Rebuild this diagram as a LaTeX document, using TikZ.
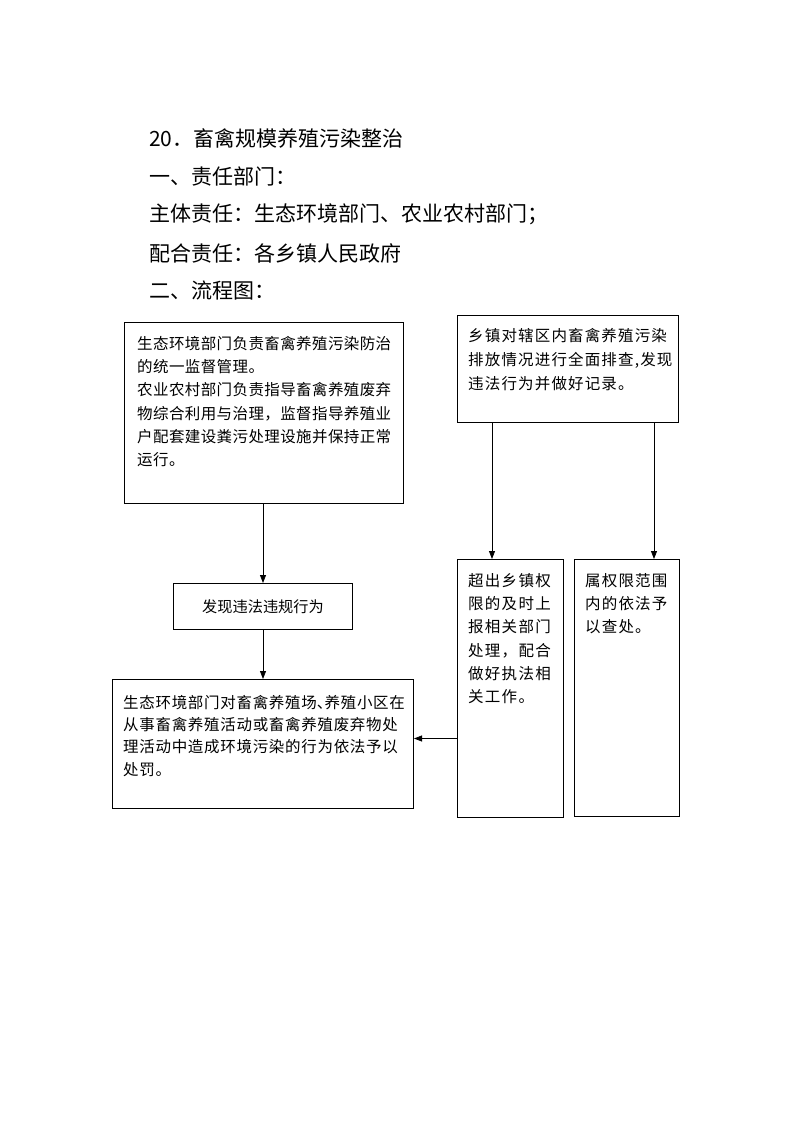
\documentclass[tikz,border=0pt]{standalone}
\usepackage{fontspec}
\setmainfont{Noto Sans CJK SC}
\newfontfamily\headfam{Noto Sans CJK SC}
\newfontfamily\boxfamA[LetterSpace=2.6]{Noto Sans CJK SC}
\newfontfamily\boxfamB[LetterSpace=4.5]{Noto Sans CJK SC}
\newfontfamily\boxfamC[LetterSpace=7.5]{Noto Sans CJK SC}
\newfontfamily\boxfamD[LetterSpace=8.2]{Noto Sans CJK SC}
\newfontfamily\boxfamE{Noto Sans CJK SC}
\usetikzlibrary{arrows.meta,calc}
\begin{document}
\begin{tikzpicture}[x=1pt,y=-1pt,
  box/.style={draw,line width=1pt,inner sep=0pt,anchor=north west},
  head/.style={inner sep=0pt,anchor=west,font=\headfam\fontsize{21}{21}\selectfont},
  txt/.style={inner sep=0pt,anchor=north west,align=left},
  arr/.style={line width=0.8pt,-{Triangle[length=8pt,width=6pt]}}]
\useasboundingbox (0,0) rectangle (793,1122);

% heading lines
\node[head] (h1) at (149,138) {20．畜禽规模养殖污染整治};
\node[head] (h2) at (149,176) {一、责任部门：};
\node[head] (h3) at (149,214) {主体责任：生态环境部门、农业农村部门；};
\node[head] (h4) at (149,253) {配合责任：各乡镇人民政府};
\node[head] (h5) at (149,291) {二、流程图：};

% boxes
\node[box,minimum width=279pt,minimum height=181pt] (b1) at (124,322) {};
\node[box,minimum width=179pt,minimum height=46pt] (b2) at (173,583) {};
\node[box,minimum width=301pt,minimum height=129pt] (b3) at (112,679) {};
\node[box,minimum width=221pt,minimum height=107pt] (r1) at (457,315) {};
\node[box,minimum width=106pt,minimum height=258pt] (sa) at (457,559) {};
\node[box,minimum width=105pt,minimum height=257pt] (sb) at (574,559) {};

% texts
\node[txt,font=\boxfamA\fontsize{15.5}{23.3}\selectfont] (t1) at (137,336)
  {生态环境部门负责畜禽养殖污染防治\\的统一监督管理。\\农业农村部门负责指导畜禽养殖废弃\\物综合利用与治理，监督指导养殖业\\户配套建设粪污处理设施并保持正常\\运行。};
\node[inner sep=0pt,font=\boxfamE\fontsize{15.2}{18}\selectfont] (t2) at (b2.center) {发现违法违规行为};
\node[txt,font=\boxfamB\fontsize{15.5}{22.3}\selectfont] (t3) at (123,695)
  {生态环境部门对畜禽养殖场\makebox[0.5em][l]{、}养殖小区在\\从事畜禽养殖活动或畜禽养殖废弃物处\\理活动中造成环境污染的行为依法予以\\处罚。};
\node[txt,font=\boxfamC\fontsize{15.5}{24}\selectfont] (tr) at (468,328)
  {乡镇对辖区内畜禽养殖污染\\排放情况进行全面排查,发现\\违法行为并做好记录。};
\node[txt,font=\boxfamD\fontsize{15.5}{23.3}\selectfont] (ta) at (468,573)
  {超出乡镇权\\限的及时上\\报相关部门\\处理，配合\\做好执法相\\关工作。};
\node[txt,font=\boxfamC\fontsize{15.5}{23.3}\selectfont] (tb) at (585,573)
  {属权限范围\\内的依法予\\以查处。};

% connectors
\draw[arr] (b2.north |- b1.south) -- (b2.north);
\draw[arr] (b3.north |- b2.south) -- (b3.north);
\draw[arr] ([xshift=35pt]r1.south west) -- ([xshift=35pt]r1.south west |- sa.north);
\draw[arr] ([xshift=-25pt]r1.south east) -- ([xshift=-25pt]r1.south east |- sb.north);
\draw[arr] ([yshift=-50pt]sa.west) -- ([yshift=-50pt]sa.west -| b3.east);
\end{tikzpicture}
\end{document}
